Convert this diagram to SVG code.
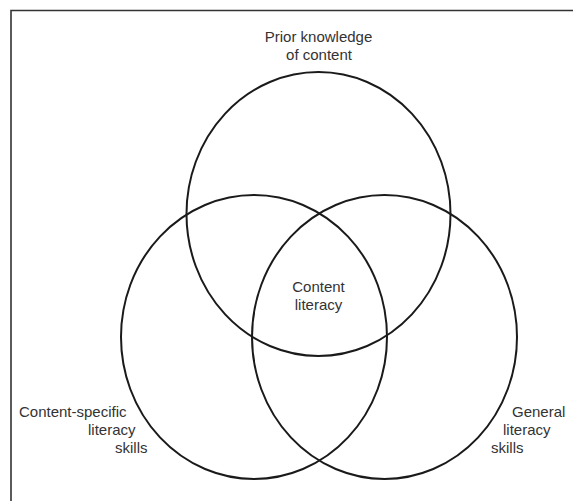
<svg xmlns="http://www.w3.org/2000/svg" width="573" height="501" viewBox="0 0 573 501">
<style>
.c{fill:none;stroke:#1a1a1a;stroke-width:2}
.t{font-family:"Liberation Sans",Arial,sans-serif;font-size:15px;fill:#333}
.f{stroke:#333;stroke-width:1.6;fill:none}
</style>
<rect width="573" height="501" fill="#fff"/>
<path class="f" d="M11 501 V10.5 H573"/>
<g id="prior">
<ellipse class="c" cx="318.5" cy="214" rx="132" ry="142"/>
<text class="t" x="318.5" y="42" text-anchor="middle">Prior knowledge</text>
<text class="t" x="319" y="60" text-anchor="middle">of content</text>
</g>
<g id="content-specific">
<ellipse class="c" cx="254" cy="337" rx="133" ry="142"/>
<text class="t" x="19" y="417">Content-specific</text>
<text class="t" x="88" y="435">literacy</text>
<text class="t" x="115" y="453">skills</text>
</g>
<g id="general">
<ellipse class="c" cx="384.5" cy="337" rx="132.5" ry="142"/>
<text class="t" x="512" y="417">General</text>
<text class="t" x="503" y="435">literacy</text>
<text class="t" x="491" y="453">skills</text>
</g>
<g id="content-literacy">
<text class="t" x="318.5" y="292" text-anchor="middle">Content</text>
<text class="t" x="318.5" y="310" text-anchor="middle">literacy</text>
</g>
<g id="connectors"/>
</svg>
